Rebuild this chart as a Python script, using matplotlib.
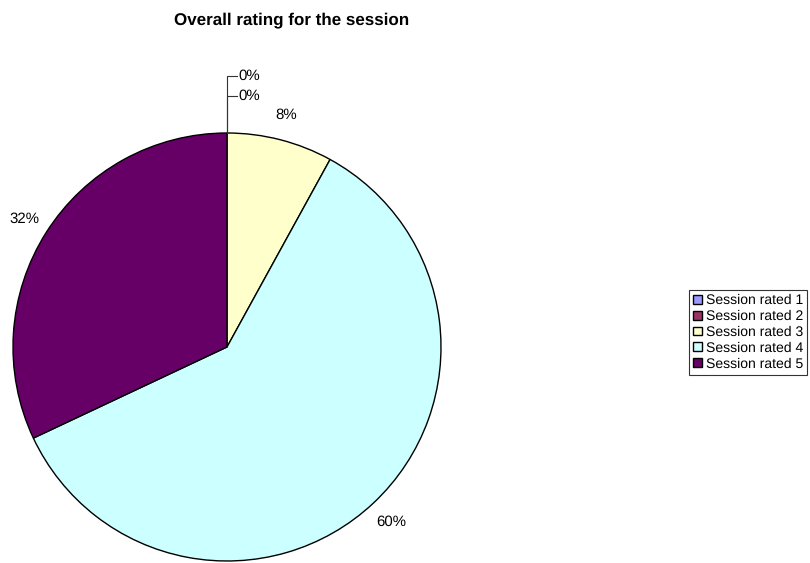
import matplotlib.pyplot as plt
import numpy as np

plt.rcParams['font.family'] = ['Liberation Sans', 'DejaVu Sans']
plt.rcParams['text.hinting_factor'] = 1
plt.rcParams['text.hinting'] = 'none'

labels = ['Session rated 1', 'Session rated 2', 'Session rated 3',
          'Session rated 4', 'Session rated 5']
shares = [0, 0, 8, 60, 32]
colors = ['#9999FF', '#993366', '#FFFFCC', '#CCFFFF', '#660066']

W, H = 810, 563
fig = plt.figure(figsize=(W / 100, H / 100), dpi=100)
ax = fig.add_axes([0, 0, 1, 1])

cx, cy, r = 227, H - 347, 214

def pct(p):
    return '%.0f%%' % p if p > 0.5 else ''

wedges, texts, autotexts = ax.pie(
    shares, colors=colors, startangle=90, counterclock=False,
    center=(cx, cy), radius=r, autopct=pct, pctdistance=1.12,
    wedgeprops=dict(edgecolor='black', linewidth=1.0),
    textprops=dict(fontsize=10.8, color='black'), frame=True)
ax.set_xlim(0, W)
ax.set_ylim(0, H)
ax.set_aspect('equal')
ax.axis('off')

# zero-share slices: labels stacked above the pie with leader lines
zero_idx = [i for i, v in enumerate(shares) if v == 0]
for k, i in enumerate(zero_idx):
    ly = cy + r + 57 - 20 * k
    ax.plot([cx, cx, cx + 10], [cy + r, ly, ly], color='#333333', lw=0.8)
    ax.text(cx + 11, ly, '0%', fontsize=10.8, va='center', ha='left')

fig.text(292 / W, 1 - 20 / H, 'Overall rating for the session',
         fontsize=12.4, fontweight='bold', ha='center', va='center')

leg = ax.legend(wedges, labels, loc='upper left',
                bbox_to_anchor=(689 / W, 1 - 290 / H),
                bbox_transform=fig.transFigure, borderaxespad=0,
                fontsize=10, frameon=True, fancybox=False,
                edgecolor='black', handlelength=0.6, handleheight=0.6,
                handletextpad=0.3, labelspacing=0.2, borderpad=0.3)
leg.get_frame().set_linewidth(0.8)

fig.savefig('out.png', dpi=100)
